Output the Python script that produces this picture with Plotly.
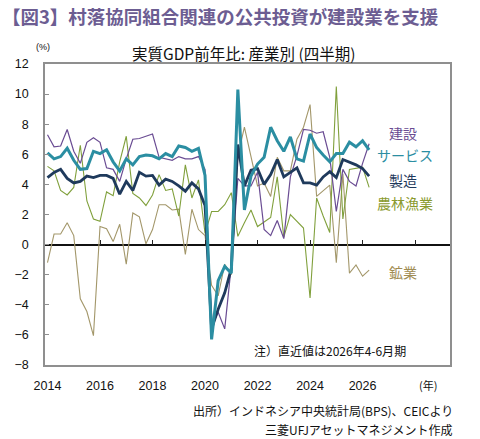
import plotly.graph_objects as go

# 四半期 (2014Q1 - 2026Q2)
start_year = 2014
n_quarters = 50
quarters = [start_year + i / 4 for i in range(n_quarters)]

# 実質GDP前年比 (%) 産業別
construction = [7.3, 6.5, 6.55, 7.65, 6.2, 5.4, 6.8, 7.1, 6.8, 5.1,
                5.0, 4.2, 5.7, 7.0, 7.05, 7.2, 7.35, 5.8, 5.7, 5.6,
                5.85, 5.7, 5.7, 5.85, 5.0, -5.4, -4.5, -5.6, -1.4, 4.4,
                3.9, 3.9, 4.8, 1.0, 0.6, 1.6, 0.4, 4.5, 5.9, 7.65,
                7.6, 7.4, 7.5, 5.8, 2.2, 5.0, 4.2, 3.9, 5.4, 6.7]
services = [6.1, 5.7, 5.85, 6.4, 5.6, 5.0, 5.05, 6.2, 6.05, 6.3,
            5.5, 4.9, 5.7, 5.3, 5.85, 5.95, 5.9, 5.7, 6.05, 5.85,
            6.55, 6.45, 6.2, 6.4, 4.6, -6.3, -2.4, -1.45, -1.9, 10.3,
            2.3, 4.55, 5.35, 5.8, 7.8, 6.9, 6.2, 7.15, 5.7, 5.55,
            7.35, 6.45, 5.95, 5.5, 6.05, 6.05, 6.8, 6.5, 6.9, 6.3]
manufacturing = [4.45, 4.8, 5.0, 4.4, 4.1, 4.2, 4.55, 4.45, 4.6, 4.6,
                 4.4, 3.35, 4.2, 3.6, 4.8, 4.55, 4.6, 3.95, 4.35, 4.2,
                 3.9, 3.55, 4.1, 3.7, 2.6, -5.6, -4.3, -3.2, -1.6, 6.65,
                 3.9, 4.95, 5.05, 4.0, 4.65, 5.65, 4.5, 4.8, 5.1, 4.1,
                 4.1, 3.95, 4.5, 4.85, 4.45, 5.65, 5.5, 5.3, 5.05, 4.55]
agriculture = [5.2, 4.9, 3.6, 3.3, 3.8, 6.6, 2.9, 1.7, 1.55, 3.5,
               3.25, 5.5, 7.2, 3.4, 3.1, 2.6, 3.3, 4.65, 3.6, 3.7,
               1.9, 5.3, 3.1, 4.3, 0.75, 2.2, 2.2, 2.65, 3.45, 0.55,
               1.45, 2.3, 1.2, 1.5, 1.8, 4.5, 0.5, 2.0, 1.55, 1.1,
               -3.55, 3.1, 1.9, 0.8, 10.5, 1.7, 5.0, 5.1, 5.15, 3.8]
mining = [-1.2, 0.7, 0.7, 1.45, 0.6, -3.6, -4.45, -6.05, 1.2, 1.05,
          0.2, 1.35, -1.3, 2.1, 1.85, 0.05, 1.0, 2.65, 2.65, 2.3,
          2.35, -0.65, 2.35, 1.0, 0.6, -2.7, -3.4, -1.3, -2.0, 5.9,
          7.8, 5.8, 3.9, 4.1, 3.2, 5.8, 4.9, 4.9, 7.0, 7.8,
          9.3, 3.2, 3.55, 3.95, -1.2, 4.7, -1.9, -1.35, -2.1, -1.7]

x_tick_years = [2014, 2016, 2018, 2020, 2022, 2024, 2026]
zero_tick_years = [2016, 2018, 2020, 2022, 2024, 2026, 2028]

jp_font = "Noto Sans CJK JP"
num_font = "Liberation Sans"

# 系列: 名前, データ, 色, 線幅, ラベル位置
series = [
    ("鉱業", mining, "#a3976a", 1.1, 0.884, 0.309),
    ("農林漁業", agriculture, "#80a03c", 1.1, 0.889, 0.538),
    ("建設", construction, "#6a4c93", 1.2, 0.884, 0.771),
    ("製造", manufacturing, "#1f3a5c", 2.8, 0.884, 0.615),
    ("サービス", services, "#2b8ea2", 3.0, 0.889, 0.698),
]
label_colors = {"鉱業": "#a08c52", "農林漁業": "#8a9a2e"}

fig = go.Figure()
for name, values, color, width, lx, ly in series:
    fig.add_trace(go.Scatter(
        x=quarters, y=values, mode="lines", name=name,
        line=dict(color=color, width=width),
        showlegend=False,
    ))
    fig.add_annotation(
        text=name, xref="paper", yref="paper", x=lx, y=ly,
        showarrow=False, xanchor="center", yanchor="middle",
        font=dict(family=jp_font, size=14, color=label_colors.get(name, color)),
    )

# ゼロ線上の目盛り用 (空トレース)
fig.add_trace(go.Scatter(x=[], y=[], xaxis="x2", showlegend=False,
                         hoverinfo="skip"))

x_range = [2013.905, 2029.33]

fig.update_layout(
    width=480, height=439,
    margin=dict(l=45, r=30, t=64, b=74),
    paper_bgcolor="white", plot_bgcolor="white",
    title=dict(
        text="<b>【図3】村落協同組合関連の公共投資が建設業を支援</b>",
        x=0.004, xanchor="left", xref="container",
        y=1 - 18 / 439, yanchor="middle", yref="container",
        font=dict(family=jp_font, size=18.5, color="#6c5d92"),
    ),
    xaxis=dict(
        range=x_range, showgrid=False, zeroline=False,
        tickvals=x_tick_years, ticktext=[str(y) for y in x_tick_years],
        ticks="", ticklabelstandoff=8,
        showline=True, mirror=True, linecolor="#8f8f8f", linewidth=1.5,
        tickfont=dict(family=num_font, size=12.5, color="#111"),
    ),
    xaxis2=dict(
        range=x_range, overlaying="x", side="top", anchor="free",
        position=0.4, showgrid=False, zeroline=False, showline=False,
        tickvals=zero_tick_years, ticks="outside", ticklen=5,
        tickwidth=1, tickcolor="#222", showticklabels=False,
    ),
    yaxis=dict(
        range=[-8, 12], dtick=2, showgrid=False,
        zeroline=True, zerolinecolor="#111", zerolinewidth=1.5,
        ticks="inside", ticklen=4, tickcolor="#8f8f8f", ticklabelstandoff=12,
        showline=True, mirror=True, linecolor="#8f8f8f", linewidth=1.5,
        tickfont=dict(family=num_font, size=12.5, color="#111"),
    ),
)

fig.add_annotation(
    text="実質GDP前年比: 産業別 (四半期)", xref="paper", yref="paper",
    x=0.489, y=1.0365, showarrow=False, xanchor="center", yanchor="middle",
    font=dict(family=jp_font, size=15.5, color="#111"),
)
fig.add_annotation(
    text="(%)", xref="paper", yref="paper", x=-0.005, y=1.0565,
    showarrow=False, xanchor="center", yanchor="middle",
    font=dict(family=num_font, size=9, color="#111"),
)
fig.add_annotation(
    text="(年)", xref="paper", yref="paper", x=0.9457, y=-0.0664,
    showarrow=False, xanchor="center", yanchor="middle",
    font=dict(family=jp_font, size=11, color="#111"),
)
fig.add_annotation(
    text="注）直近値は2026年4-6月期", xref="paper", yref="paper",
    x=0.511, y=0.0498, showarrow=False, xanchor="left", yanchor="middle",
    font=dict(family=jp_font, size=12, color="#111"),
)
# 出所 (2行)
fig.add_annotation(
    text="出所）インドネシア中央統計局(BPS)、CEICより", xref="paper", yref="paper",
    x=1.0123, y=(365 - 411) / 301, showarrow=False,
    xanchor="right", yanchor="middle",
    font=dict(family=jp_font, size=12, color="#111"),
)
fig.add_annotation(
    text="三菱UFJアセットマネジメント作成", xref="paper", yref="paper",
    x=1.0123, y=(365 - 429) / 301, showarrow=False,
    xanchor="right", yanchor="middle",
    font=dict(family=jp_font, size=12, color="#111"),
)

# ページ余白を消して 480x439 の窓にぴったり収める
fig.write_html(
    "out.html",
    config={"displayModeBar": False},
    post_script="document.body.style.margin='0';",
)
